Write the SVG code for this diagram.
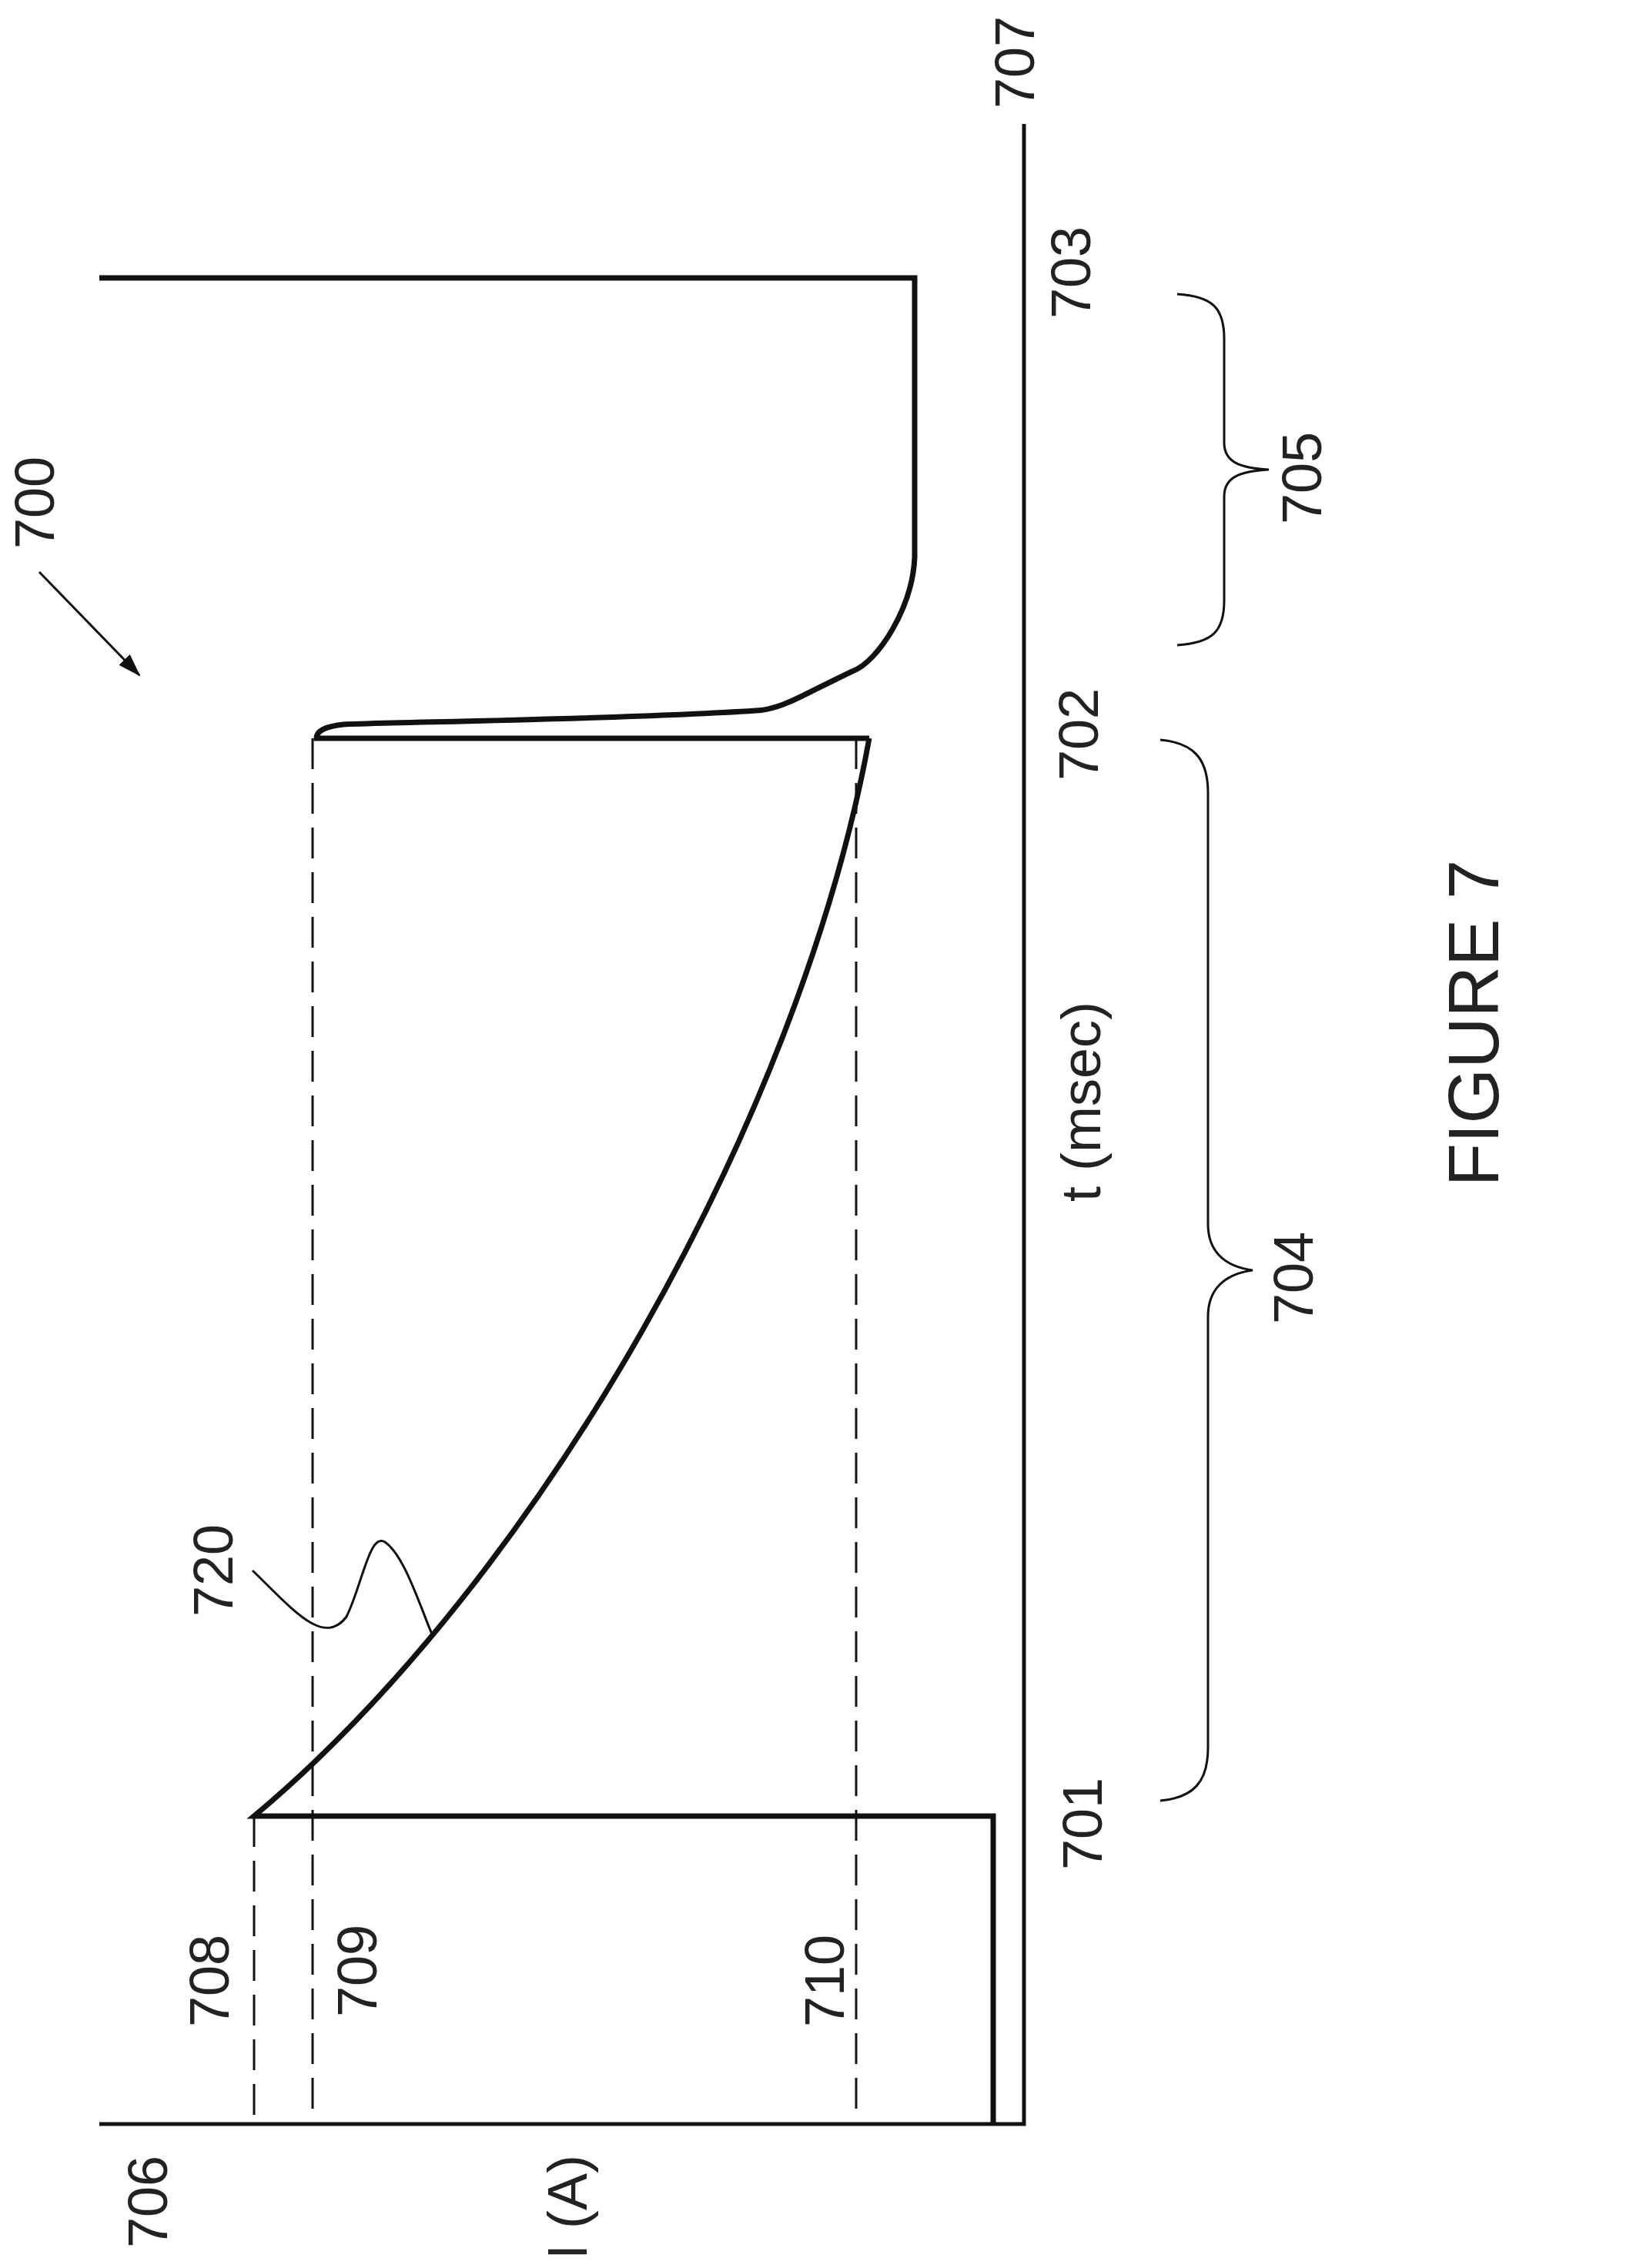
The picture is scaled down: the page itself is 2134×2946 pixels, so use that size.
<svg xmlns="http://www.w3.org/2000/svg" width="2134" height="2946" viewBox="0 0 2134 2946">
<style>
text{font-family:"Liberation Sans",Arial,sans-serif;fill:#222;text-anchor:middle;dominant-baseline:central}
.lbl{font-size:72px}
.axis{stroke:#111;stroke-width:5;fill:none}
.sig{stroke:#111;stroke-width:7;fill:none;stroke-linejoin:miter}
.thin{stroke:#111;stroke-width:3;fill:none}
.dash{stroke:#111;stroke-width:3;fill:none;stroke-dasharray:40 18}
</style>
<defs>
<marker id="ah" markerWidth="30" markerHeight="24" refX="28" refY="12" orient="auto" markerUnits="userSpaceOnUse" viewBox="0 0 30 24">
<path d="M0,2 L30,12 L0,22 Z" fill="#111"/>
</marker>
</defs>
<rect width="2134" height="2946" fill="#fff"/>
<g id="axes">
<path class="axis" d="M129,2759 H1330 V161"/>
</g>
<g id="waveform">
<path class="sig" d="M129,361 H1188 V724 C1185,790 1140,860 1107,872 C1080,885 1060,895 1040,905 C1010,920 990,923 982,923 C800,935 500,938 446,941 C420,944 411,950 411,959 H1129"/>
<path id="n720curve" class="sig" d="M1129,959 C1040,1450 700,2050 330,2359 H1290 V2759"/>
</g>
<g id="dashes">
<path class="dash" d="M330,2359 V2759"/>
<path class="dash" d="M406,959 V2759"/>
<path class="dash" d="M1112,959 V2759"/>
</g>
<g id="connectors">
<path class="thin" d="M51,743 L181,877" marker-end="url(#ah)"/>
<path class="thin" d="M328,2040 C380,2090 420,2140 450,2100 C470,2060 480,1990 500,2003 C525,2020 545,2085 562,2125"/>
<path class="thin" d="M1529,382 C1575,385 1590,400 1590,440 V575 C1590,600 1610,608 1648,610 C1610,612 1590,620 1590,645 V780 C1590,820 1575,835 1529,838"/>
<path class="thin" d="M1507,961 C1550,965 1569,985 1569,1030 V1590 C1569,1625 1590,1645 1627,1650 C1590,1655 1569,1675 1569,1710 V2270 C1569,2315 1550,2335 1507,2339"/>
</g>
<g id="labels">
<text class="lbl" transform="translate(1318,81) rotate(-90)">707</text>
<text class="lbl" transform="translate(1391,354) rotate(-90)">703</text>
<text class="lbl" transform="translate(1401,954) rotate(-90)">702</text>
<text class="lbl" transform="translate(1406,2369) rotate(-90)">701</text>
<text class="lbl" transform="translate(1691,621) rotate(-90)">705</text>
<text class="lbl" transform="translate(1680,1660) rotate(-90)">704</text>
<text class="lbl" transform="translate(1404,1431) rotate(-90)">t (msec)</text>
<text transform="translate(1914,1329) rotate(-90)" style="font-size:92px">FIGURE 7</text>
<text class="lbl" transform="translate(45,653) rotate(-90)">700</text>
<text class="lbl" transform="translate(277,2040) rotate(-90)">720</text>
<text class="lbl" transform="translate(272,2573) rotate(-90)">708</text>
<text class="lbl" transform="translate(464,2560) rotate(-90)">709</text>
<text class="lbl" transform="translate(1071,2573) rotate(-90)">710</text>
<text class="lbl" transform="translate(192,2860) rotate(-90)">706</text>
<text class="lbl" transform="translate(737,2867) rotate(-90)">I (A)</text>
</g>
</svg>
